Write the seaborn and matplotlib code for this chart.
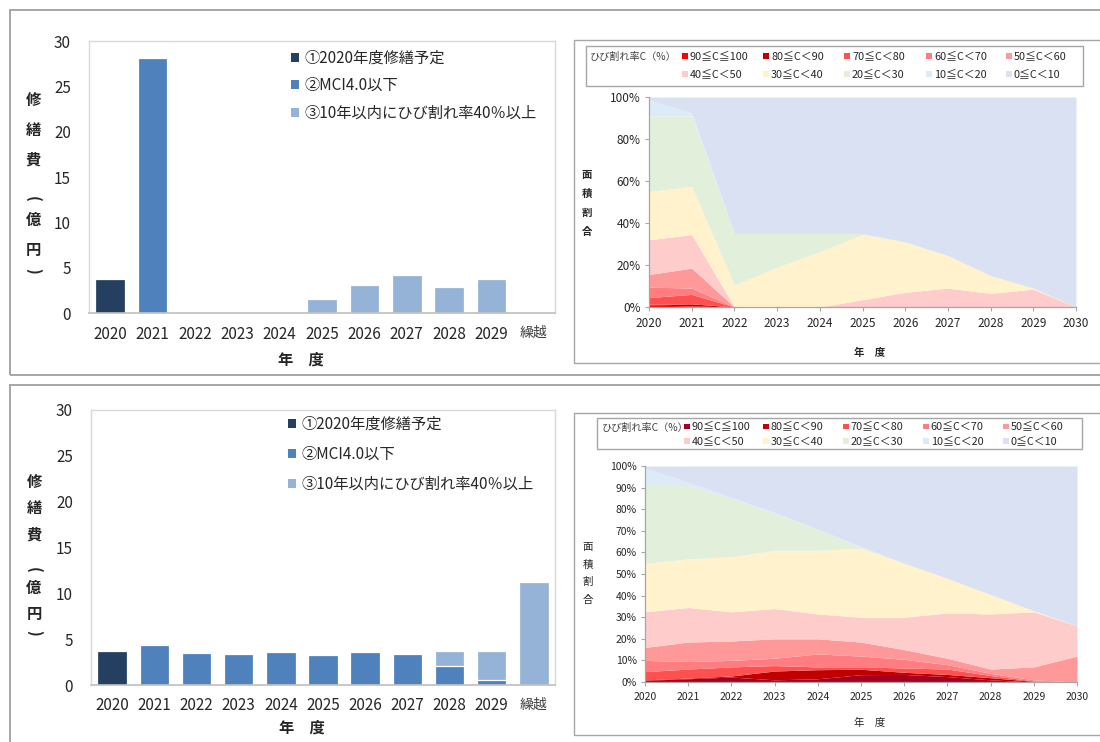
import matplotlib
matplotlib.use("Agg")
import matplotlib.pyplot as plt
from matplotlib.patches import Rectangle, Patch
from matplotlib.ticker import FuncFormatter
import numpy as np
import pandas as pd
import seaborn as sns

# ---------------------------------------------------------------- data
years = ["2020", "2021", "2022", "2023", "2024", "2025",
         "2026", "2027", "2028", "2029", "繰越"]
series_labels = ["①2020年度修繕予定", "②MCI4.0以下", "③10年以内にひび割れ率40％以上"]

# repair cost (100 million yen), upper scenario
planned_a = [3.7, 0, 0, 0, 0, 0, 0, 0, 0, 0, 0]
mci_a = [0, 28.1, 0, 0, 0, 0, 0, 0, 0, 0, 0]
crack_a = [0, 0, 0, 0, 0, 1.5, 3.1, 4.2, 2.9, 3.8, 0]

# repair cost (100 million yen), lower scenario
planned_b = [3.7, 0, 0, 0, 0, 0, 0, 0, 0, 0, 0]
mci_b = [0, 4.4, 3.5, 3.4, 3.55, 3.25, 3.6, 3.4, 2.1, 0.5, 0]
crack_b = [0, 0, 0, 0, 0, 0, 0, 0, 1.6, 3.2, 11.2]

area_years = [2020, 2021, 2022, 2023, 2024, 2025, 2026, 2027, 2028, 2029, 2030]
class_labels = ["90≦C≦100", "80≦C＜90", "70≦C＜80", "60≦C＜70", "50≦C＜60",
                "40≦C＜50", "30≦C＜40", "20≦C＜30", "10≦C＜20", "0≦C＜10"]

# area share (%) by crack-rate class, upper scenario
a90 = [1.0, 0.5, 0, 0, 0, 0, 0, 0, 0, 0, 0]
a80 = [0.3, 1.0, 0, 0, 0, 0, 0, 0, 0, 0, 0]
a70 = [3.2, 4.5, 0, 0, 0, 0, 0, 0, 0, 0, 0]
a60 = [5.0, 3.0, 0, 0, 0, 0, 0, 0, 0, 0, 0]
a50 = [6.0, 9.5, 0, 0, 0, 0, 0, 0, 0, 0, 0]
a40 = [16.5, 16.0, 0, 0, 0, 3.5, 7.0, 9.0, 6.5, 8.5, 0]
a30 = [23.0, 23.0, 10.5, 19.0, 26.5, 31.0, 24.0, 15.5, 8.5, 0.5, 0]
a20 = [36.0, 33.5, 24.5, 16.0, 8.5, 0.5, 0, 0, 0, 0, 0]
a10 = [7.5, 1.5, 0, 0, 0, 0, 0, 0, 0, 0, 0]
a0 = [1.5, 7.5, 65.0, 65.0, 65.0, 65.0, 69.0, 75.5, 85.0, 91.0, 100.0]

# area share (%) by crack-rate class, lower scenario
b90 = [0.8, 1.5, 2.3, 1.0, 1.5, 3.4, 3.5, 2.5, 1.0, 0, 0]
b80 = [0.2, 0.3, 0.5, 4.1, 4.2, 2.5, 1.0, 1.0, 1.0, 0.3, 0]
b70 = [3.8, 4.2, 4.2, 2.5, 1.3, 1.1, 2.0, 2.5, 1.0, 0.2, 0]
b60 = [5.2, 3.5, 3.0, 3.4, 6.0, 5.0, 4.0, 2.0, 1.0, 0.5, 0]
b50 = [6.0, 9.0, 9.0, 9.0, 7.0, 6.5, 4.5, 3.0, 2.0, 6.0, 12.0]
b40 = [16.5, 16.0, 13.5, 14.0, 11.5, 11.5, 15.0, 21.0, 25.5, 25.5, 14.0]
b30 = [22.5, 22.5, 25.5, 27.0, 29.5, 32.0, 25.0, 16.0, 9.0, 0.5, 0]
b20 = [36.0, 34.0, 27.0, 17.0, 9.5, 0.5, 0, 0, 0, 0, 0]
b10 = [8.0, 1.5, 0.5, 0.5, 0.3, 0.2, 0, 0, 0, 0, 0]
b0 = [1.0, 7.5, 14.5, 21.5, 29.2, 37.3, 45.0, 52.0, 59.5, 67.0, 74.0]

# ---------------------------------------------------------------- style
sns.set_theme(style="white")
plt.rcParams["font.family"] = ["Noto Sans CJK JP", "DejaVu Sans"]
plt.rcParams["axes.unicode_minus"] = False

BAR_COLORS = ["#243F60", "#4F81BD", "#95B3D7"]
CLASS_COLORS_A = ["#FF0000", "#C00000", "#FF5050", "#FF7C80", "#FF9999",
                  "#FFCCCC", "#FFF2CC", "#E2EFDA", "#DDEBF7", "#D9E1F2"]
CLASS_COLORS_B = ["#A50021"] + CLASS_COLORS_A[1:]
TEXT = "#262626"

W, H = 1100, 742
fig = plt.figure(figsize=(W / 100, H / 100), dpi=100)
fig.patch.set_facecolor("white")


def fx(px):
    return px / W


def fy(py):
    return 1 - py / H


def axes_at(left, top, right, bottom):
    return fig.add_axes([fx(left), fy(bottom), (right - left) / W, (bottom - top) / H])


def frame(left, top, right, bottom, color, lw):
    fig.add_artist(Rectangle((fx(left), fy(bottom)), (right - left) / W, (bottom - top) / H,
                             transform=fig.transFigure, fill=False, ec=color, lw=lw))


def vertical_label(chars, x, y0, step, size, weight):
    # brackets are turned a quarter clockwise, as in vertical writing,
    # and pulled towards the characters they enclose
    for i, ch in enumerate(chars):
        rot, shift = 0, 0
        if ch == "(":
            rot, shift = -90, step * 0.3
        elif ch == ")":
            rot, shift = -90, -step * 0.3
        fig.text(fx(x), fy(y0 + i * step + shift), ch, ha="center", va="center",
                 rotation=rot, fontsize=size, fontweight=weight, color=TEXT)


def bar_panel(ax, planned, mci, crack, anchor, labelspacing):
    df = pd.DataFrame({"year": years, "planned": planned, "mci": mci, "crack": crack})
    df["upto_mci"] = df["planned"] + df["mci"]
    df["total"] = df["upto_mci"] + df["crack"]
    common = dict(x="year", order=years, width=0.7, saturation=1, ax=ax,
                  edgecolor="white", linewidth=0.9)
    sns.barplot(data=df, y="total", color=BAR_COLORS[2], **common)
    sns.barplot(data=df, y="upto_mci", color=BAR_COLORS[1], **common)
    sns.barplot(data=df, y="planned", color=BAR_COLORS[0], **common)
    ax.set_ylim(0, 30)
    ax.set_yticks(range(0, 31, 5))
    ax.set_xlabel("")
    ax.set_ylabel("")
    for side in ["top", "right", "left"]:
        ax.spines[side].set_color("#D9D9D9")
        ax.spines[side].set_linewidth(1.0)
    ax.spines["bottom"].set_color("#BFBFBF")
    ax.spines["bottom"].set_linewidth(1.2)
    ax.tick_params(axis="y", length=0, pad=13, labelsize=11, labelcolor=TEXT)
    ax.tick_params(axis="x", length=0, pad=9, labelsize=11, labelcolor=TEXT)
    last = ax.get_xticklabels()[-1]
    last.set_fontsize(10)
    last.set_color("#404040")
    handles = [Patch(facecolor=c, edgecolor="none") for c in BAR_COLORS]
    ax.legend(handles, series_labels, loc="upper left", bbox_to_anchor=anchor,
              frameon=False, fontsize=11, handlelength=0.55, handleheight=0.55,
              handletextpad=0.35, labelspacing=labelspacing, borderpad=0.2,
              labelcolor=TEXT)


def area_panel(ax, layers, colors, yticks, tick_size):
    ax.stackplot(area_years, *layers, colors=colors, linewidth=0)
    ax.set_xlim(2020, 2030)
    ax.set_ylim(0, 100)
    ax.set_xticks(area_years)
    ax.set_yticks(yticks)
    ax.yaxis.set_major_formatter(FuncFormatter(lambda v, _: f"{v:.0f}%"))
    for side in ["top", "right"]:
        ax.spines[side].set_visible(False)
    for side in ["left", "bottom"]:
        ax.spines[side].set_color("#A6A6A6")
        ax.spines[side].set_linewidth(0.9)
    ax.tick_params(axis="both", direction="out", length=3, width=0.8, color="#A6A6A6",
                   labelsize=tick_size, labelcolor=TEXT, left=True, bottom=True)
    ax.tick_params(axis="x", pad=4)
    ax.tick_params(axis="y", pad=3)


def crack_legend(colors, box, title_xy, col_x, row_y, size, marker):
    left, top, right, bottom = box
    frame(left, top, right, bottom, "#A6A6A6", 1.0)
    fig.text(fx(title_xy[0]), fy(title_xy[1]), "ひび割れ率C（%）", fontsize=size - 0.5,
             ha="left", va="center", color="#404040")
    for i, (lab, col) in enumerate(zip(class_labels, colors)):
        r, c = divmod(i, 5)
        x, y = col_x[c], row_y[r]
        fig.add_artist(Rectangle((fx(x - marker / 2), fy(y + marker / 2)), marker / W, marker / H,
                                 transform=fig.transFigure, facecolor=col, edgecolor="none"))
        fig.text(fx(x + marker / 2 + 2), fy(y), lab, fontsize=size,
                 ha="left", va="center", color=TEXT)


# ---------------------------------------------------------------- panel frames
frame(10, 10, 1110, 375, "#A6A6A6", 1.4)
frame(10, 385, 1110, 760, "#A6A6A6", 1.4)
frame(574, 40, 1110, 363, "#A6A6A6", 1.0)
frame(574, 413, 1110, 735, "#A6A6A6", 1.0)

# ---------------------------------------------------------------- upper row
ax1 = axes_at(89, 41, 555, 313)
bar_panel(ax1, planned_a, mci_a, crack_a, anchor=(0.41, 1.007), labelspacing=0.68)
vertical_label(["修", "繕", "費", "(", "億", "円", ")"], 33, 100, 30, 11, "bold")
fig.text(fx(301), fy(360), "年　度", ha="center", va="center", fontsize=11,
         fontweight="bold", color=TEXT)

ax2 = axes_at(649, 97, 1076, 307)
area_panel(ax2, [a90, a80, a70, a60, a50, a40, a30, a20, a10, a0],
           CLASS_COLORS_A, range(0, 101, 20), 8.5)
vertical_label(["面", "積", "割", "合"], 587, 175, 19, 7.5, "bold")
fig.text(fx(870), fy(353), "年　度", ha="center", va="center", fontsize=7.5,
         fontweight="bold", color=TEXT)
crack_legend(CLASS_COLORS_A, (586, 46, 1083, 86), (590, 57),
             [685, 766, 847, 929, 1009], [56, 74], 7.8, 6)

# ---------------------------------------------------------------- lower row
ax3 = axes_at(91, 410, 555, 685)
bar_panel(ax3, planned_b, mci_b, crack_b, anchor=(0.401, 1.018), labelspacing=0.85)
vertical_label(["修", "繕", "費", "(", "億", "円", ")"], 34, 482, 26.5, 11, "bold")
fig.text(fx(302), fy(728), "年　度", ha="center", va="center", fontsize=11,
         fontweight="bold", color=TEXT)

ax4 = axes_at(645, 466, 1077, 682)
area_panel(ax4, [b90, b80, b70, b60, b50, b40, b30, b20, b10, b0],
           CLASS_COLORS_B, range(0, 101, 10), 7.5)
vertical_label(["面", "積", "割", "合"], 588, 547, 17.5, 7.5, "normal")
fig.text(fx(870), fy(723), "年　度", ha="center", va="center", fontsize=7.5,
         color=TEXT)
crack_legend(CLASS_COLORS_B, (597, 418, 1082, 449), (602, 428),
             [687, 766, 846, 926, 1006], [426.5, 441], 7.8, 5.5)

fig.savefig("out.png", dpi=100, facecolor="white")
